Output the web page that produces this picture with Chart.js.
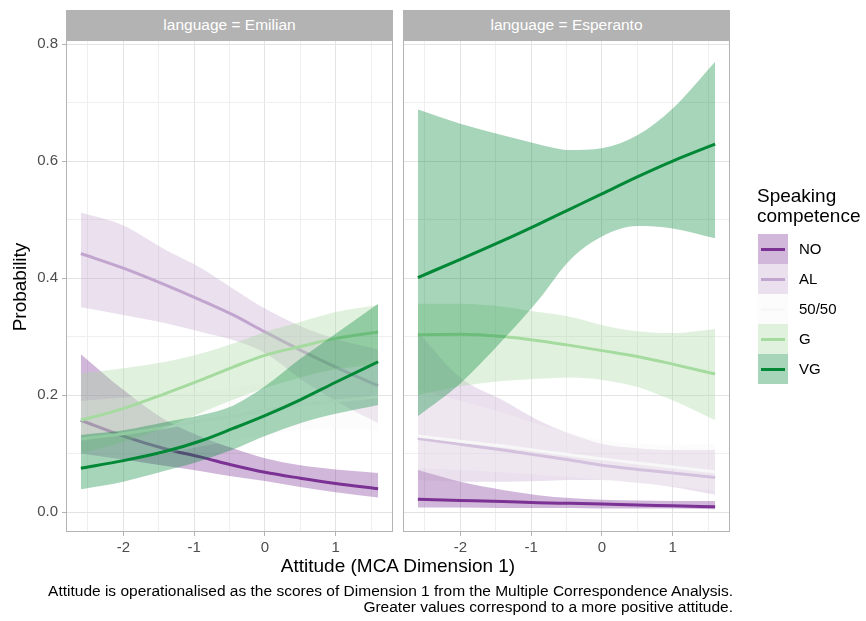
<!DOCTYPE html>
<html>
<head>
<meta charset="utf-8">
<script src="https://cdn.jsdelivr.net/npm/chart.js@4.4.1/dist/chart.umd.min.js"></script>
<style>
  body { margin: 0; background: #fff; }
  #wrap { position: relative; width: 866px; height: 621px; overflow: hidden;
          font-family: "Liberation Sans", Arial, sans-serif; }
  canvas { position: absolute; left: 0; top: 0; }
  .strip { position: absolute; top: 10px; height: 30px; width: 327px; background: #b3b3b3;
           color: #fff; font-size: 15.5px; line-height: 30px; text-align: center; }
  .title { position: absolute; color: #000; font-size: 19px; white-space: nowrap; }
  .key { position: absolute; left: 758px; width: 30px; height: 30px; }
  .key span { position: absolute; left: 3px; right: 3px; top: 13.5px; height: 3px; }
  .keylab { position: absolute; left: 799px; font-size: 15px; line-height: 30px; color: #000; }
  #caption { position: absolute; right: 133px; top: 583px; font-size: 15.5px; line-height: 16px;
             text-align: right; color: #000; white-space: nowrap; }
</style>
</head>
<body>
<div id="wrap">
  <canvas id="emilian" width="866" height="621"></canvas>
  <canvas id="esperanto" width="866" height="621"></canvas>
  <div class="strip" style="left:66px">language = Emilian</div>
  <div class="strip" style="left:403px">language = Esperanto</div>
  <div class="title" style="left:-80px; top:276px; width:200px; text-align:center; transform:rotate(-90deg)">Probability</div>
  <div class="title" style="left:198px; top:555px; width:400px; text-align:center">Attitude (MCA Dimension 1)</div>
  <div class="title" style="left:757px; top:186px; line-height:20px">Speaking<br>competence</div>
  <div id="legend"></div>
  <div id="caption">Attitude is operationalised as the scores of Dimension 1 from the Multiple Correspondence Analysis.<br>Greater values correspond to a more positive attitude.</div>
</div>
<script>
// attitude scores where the fitted curves were read
const attitude = [-2.6, -2.0, -1.4, -0.9, -0.45, 0.0, 0.5, 1.0, 1.6];

const levels = ['NO', 'AL', '50/50', 'G', 'VG'];
const colors = ['#7b3294', '#c2a5cf', '#f7f7f7', '#a6dba0', '#008837'];

const xTicks = [-2, -1, 0, 1];
const xMinor = [-2.5, -1.5, -0.5, 0.5, 1.5];
const yTicks = [0, 0.2, 0.4, 0.6, 0.8];
const yMinor = [0.1, 0.3, 0.5, 0.7];

// Emilian
const emilianNO     = [0.157, 0.130, 0.108, 0.094, 0.080, 0.068, 0.058, 0.049, 0.040];
const emilianNOLow  = [0.100, 0.090, 0.079, 0.070, 0.061, 0.053, 0.043, 0.034, 0.025];
const emilianNOHigh = [0.270, 0.209, 0.157, 0.129, 0.109, 0.092, 0.080, 0.073, 0.067];
const emilianAL     = [0.442, 0.417, 0.388, 0.362, 0.337, 0.308, 0.277, 0.248, 0.216];
const emilianALLow  = [0.350, 0.337, 0.323, 0.308, 0.294, 0.272, 0.228, 0.190, 0.152];
const emilianALHigh = [0.512, 0.490, 0.448, 0.417, 0.382, 0.348, 0.318, 0.296, 0.278];
const emilianFF     = [0.125, 0.134, 0.145, 0.156, 0.164, 0.174, 0.183, 0.190, 0.197];
const emilianFFLow  = [0.070, 0.086, 0.100, 0.112, 0.123, 0.133, 0.140, 0.142, 0.140];
const emilianFFHigh = [0.190, 0.196, 0.201, 0.206, 0.212, 0.222, 0.233, 0.246, 0.262];
const emilianG      = [0.157, 0.177, 0.203, 0.226, 0.248, 0.268, 0.283, 0.297, 0.308];
const emilianGLow   = [0.100, 0.120, 0.145, 0.170, 0.192, 0.212, 0.230, 0.244, 0.252];
const emilianGHigh  = [0.237, 0.246, 0.257, 0.271, 0.288, 0.308, 0.325, 0.342, 0.354];
const emilianVG     = [0.075, 0.088, 0.104, 0.122, 0.143, 0.165, 0.192, 0.222, 0.257];
const emilianVGLow  = [0.039, 0.052, 0.071, 0.088, 0.107, 0.130, 0.152, 0.168, 0.183];
const emilianVGHigh = [0.132, 0.140, 0.154, 0.166, 0.182, 0.215, 0.262, 0.305, 0.356];

// Esperanto
const esperantoNO     = [0.022, 0.020, 0.018, 0.016, 0.015, 0.014, 0.012, 0.011, 0.009];
const esperantoNOLow  = [0.008, 0.008, 0.007, 0.007, 0.007, 0.006, 0.006, 0.006, 0.005];
const esperantoNOHigh = [0.072, 0.052, 0.038, 0.029, 0.024, 0.021, 0.020, 0.019, 0.019];
const esperantoAL     = [0.126, 0.116, 0.106, 0.097, 0.089, 0.080, 0.073, 0.067, 0.059];
const esperantoALLow  = [0.055, 0.052, 0.052, 0.053, 0.055, 0.055, 0.050, 0.043, 0.030];
const esperantoALHigh = [0.308, 0.230, 0.191, 0.157, 0.134, 0.117, 0.109, 0.106, 0.106];
const esperantoFF     = [0.130, 0.121, 0.113, 0.105, 0.098, 0.091, 0.084, 0.077, 0.069];
const esperantoFFLow  = [0.075, 0.072, 0.068, 0.064, 0.060, 0.055, 0.050, 0.044, 0.036];
const esperantoFFHigh = [0.210, 0.190, 0.170, 0.150, 0.135, 0.123, 0.117, 0.115, 0.117];
const esperantoG      = [0.303, 0.304, 0.300, 0.293, 0.285, 0.276, 0.266, 0.253, 0.236];
const esperantoGLow   = [0.200, 0.215, 0.224, 0.228, 0.230, 0.226, 0.214, 0.191, 0.157];
const esperantoGHigh  = [0.356, 0.356, 0.351, 0.342, 0.334, 0.320, 0.309, 0.306, 0.313];
const esperantoVG     = [0.401, 0.432, 0.464, 0.492, 0.518, 0.544, 0.573, 0.600, 0.629];
const esperantoVGLow  = [0.164, 0.220, 0.294, 0.362, 0.431, 0.471, 0.489, 0.485, 0.468];
const esperantoVGHigh = [0.688, 0.664, 0.644, 0.629, 0.619, 0.622, 0.644, 0.690, 0.770];

const FONT = '"Liberation Sans", Arial, sans-serif';
const BAND_ALPHA = 0.35;

function rgba(hex, a) {
  const n = parseInt(hex.slice(1), 16);
  return 'rgba(' + (n >> 16) + ',' + ((n >> 8) & 255) + ',' + (n & 255) + ',' + a + ')';
}

function buildDatasets(fits, lows, highs) {
  const sets = [];
  const pts = arr => arr.map((v, k) => ({ x: attitude[k], y: v }));
  levels.forEach((lvl, i) => {
    // NO is drawn first, VG last (on top)
    const rank = (levels.length - i) * 10;
    sets.push({ label: lvl + ' low', data: pts(lows[i]), borderWidth: 0, pointRadius: 0,
                fill: false, order: rank, cubicInterpolationMode: 'monotone' });
    sets.push({ label: lvl + ' band', data: pts(highs[i]), borderWidth: 0, pointRadius: 0,
                backgroundColor: rgba(colors[i], BAND_ALPHA), fill: '-1', order: rank,
                cubicInterpolationMode: 'monotone' });
    sets.push({ label: lvl, data: pts(fits[i]), borderColor: colors[i], borderWidth: 3,
                pointRadius: 0, fill: false, order: rank - 1, cubicInterpolationMode: 'monotone' });
  });
  return sets;
}

const panelBox = {
  id: 'panelBox',
  afterDraw(chart) {
    const a = chart.chartArea, c = chart.ctx;
    c.save();
    c.strokeStyle = '#b3b3b3';
    c.lineWidth = 1;
    c.strokeRect(a.left + 0.5, a.top + 0.5, a.right - a.left - 1, a.bottom - a.top - 1);
    c.restore();
  }
};

const isIn = (list, v) => list.some(t => Math.abs(t - v) < 1e-9);

function makeChart(id, datasets, left, right, showY) {
  return new Chart(document.getElementById(id).getContext('2d'), {
    type: 'line',
    data: { datasets: datasets },
    options: {
      responsive: false,
      animation: false,
      layout: { padding: { left: left, top: 40, right: 866 - right, bottom: 0 } },
      plugins: { legend: { display: false }, tooltip: { enabled: false } },
      scales: {
        x: {
          type: 'linear', min: -2.81, max: 1.81,
          afterBuildTicks: s => { s.ticks = xMinor.concat(xTicks).sort((a, b) => a - b).map(v => ({ value: v })); },
          afterFit: s => { s.height = 89; },
          border: { display: false },
          grid: {
            color: c => isIn(xTicks, c.tick.value) ? '#e3e3e3' : '#efefef',
            tickColor: c => isIn(xTicks, c.tick.value) ? '#b3b3b3' : 'rgba(0,0,0,0)',
            tickLength: 4, lineWidth: 1
          },
          ticks: {
            color: '#4d4d4d', font: { size: 15, family: FONT }, padding: 3,
            maxRotation: 0, autoSkip: false,
            callback: v => isIn(xTicks, v) ? String(v) : ''
          }
        },
        y: {
          type: 'linear', min: -0.034, max: 0.807,
          afterBuildTicks: s => { s.ticks = yMinor.concat(yTicks).sort((a, b) => a - b).map(v => ({ value: v })); },
          afterFit: s => { s.width = showY ? 66 : 0; },
          border: { display: false },
          grid: {
            color: c => isIn(yTicks, c.tick.value) ? '#e3e3e3' : '#efefef',
            tickColor: c => isIn(yTicks, c.tick.value) ? '#b3b3b3' : 'rgba(0,0,0,0)',
            tickLength: 4, lineWidth: 1, drawTicks: showY
          },
          ticks: {
            display: showY, color: '#4d4d4d', font: { size: 15, family: FONT }, padding: 4,
            callback: v => isIn(yTicks, v) ? v.toFixed(1) : ''
          }
        }
      }
    },
    plugins: [panelBox]
  });
}

makeChart('emilian',
  buildDatasets([emilianNO, emilianAL, emilianFF, emilianG, emilianVG],
                [emilianNOLow, emilianALLow, emilianFFLow, emilianGLow, emilianVGLow],
                [emilianNOHigh, emilianALHigh, emilianFFHigh, emilianGHigh, emilianVGHigh]),
  0, 393, true);

makeChart('esperanto',
  buildDatasets([esperantoNO, esperantoAL, esperantoFF, esperantoG, esperantoVG],
                [esperantoNOLow, esperantoALLow, esperantoFFLow, esperantoGLow, esperantoVGLow],
                [esperantoNOHigh, esperantoALHigh, esperantoFFHigh, esperantoGHigh, esperantoVGHigh]),
  403, 730, false);

// legend keys
const legend = document.getElementById('legend');
levels.forEach((lvl, i) => {
  const top = 234 + i * 30;
  const key = document.createElement('div');
  key.className = 'key';
  key.style.top = top + 'px';
  key.style.background = rgba(colors[i], BAND_ALPHA);
  const line = document.createElement('span');
  line.style.background = colors[i];
  key.appendChild(line);
  legend.appendChild(key);
  const lab = document.createElement('div');
  lab.className = 'keylab';
  lab.style.top = top + 'px';
  lab.textContent = lvl;
  legend.appendChild(lab);
});
</script>
</body>
</html>
